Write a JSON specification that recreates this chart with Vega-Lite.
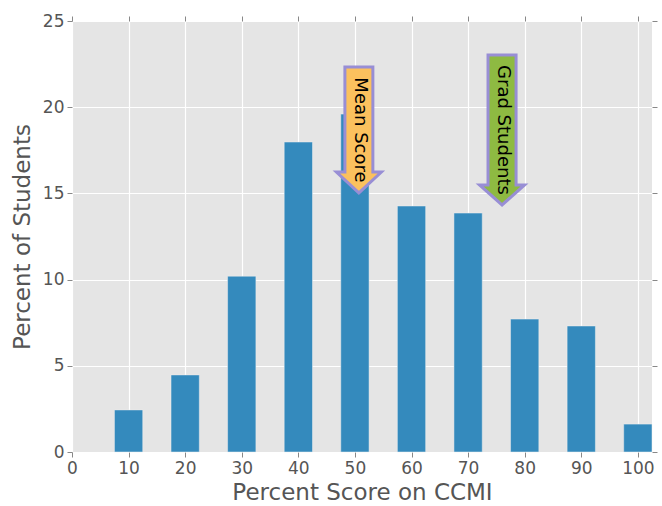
{
  "$schema": "https://vega.github.io/schema/vega-lite/v6.json",
  "width": 580,
  "height": 431,
  "autosize": {"type": "none"},
  "padding": {"left": 72, "top": 21, "right": 10, "bottom": 54},
  "background": "white",
  "view": {"fill": "#E5E5E5", "stroke": null},
  "config": {
    "font": "DejaVu Sans",
    "axis": {
      "labelFont": "DejaVu Sans",
      "titleFont": "DejaVu Sans",
      "labelFontSize": 17,
      "titleFontSize": 23,
      "titleFontWeight": "normal",
      "labelColor": "#555555",
      "titleColor": "#555555",
      "tickColor": "#888888",
      "tickSize": 5,
      "tickWidth": 1,
      "domain": false,
      "gridColor": "#FFFFFF",
      "gridWidth": 1.2,
      "gridOpacity": 1
    }
  },
  "datasets": {
    "bars": [
      {"score": 10, "pct": 2.44},
      {"score": 20, "pct": 4.47},
      {"score": 30, "pct": 10.2},
      {"score": 40, "pct": 17.98},
      {"score": 50, "pct": 19.6},
      {"score": 60, "pct": 14.27},
      {"score": 70, "pct": 13.86},
      {"score": 80, "pct": 7.71},
      {"score": 90, "pct": 7.31},
      {"score": 100, "pct": 1.62}
    ],
    "notes": [
      {"label": "Mean Score", "x": 50.7, "y": 18.68, "kind": "mean"},
      {"label": "Grad Students", "x": 76.0, "y": 18.68, "kind": "grad"}
    ]
  },
  "resolve": {"axis": {"x": "independent", "y": "independent"}},
  "layer": [
    {
      "data": {"name": "bars"},
      "mark": {"type": "bar", "size": 28.3, "color": "#348ABD", "stroke": "#EEEEEE", "strokeWidth": 0.5},
      "encoding": {
        "x": {
          "field": "score", "type": "quantitative",
          "scale": {"domain": [0, 102.5], "nice": false, "zero": false, "padding": 0},
          "axis": {"orient": "bottom", "values": [0, 10, 20, 30, 40, 50, 60, 70, 80, 90, 100], "title": "Percent Score on CCMI", "labelPadding": 3, "titlePadding": 5, "grid": true, "labelFlush": false}
        },
        "y": {
          "field": "pct", "type": "quantitative",
          "scale": {"domain": [0, 25], "nice": false, "padding": 0},
          "axis": {"orient": "left", "values": [0, 5, 10, 15, 20, 25], "title": "Percent of Students", "labelPadding": 3, "titlePadding": 8, "grid": true, "labelFlush": false}
        }
      }
    },
    {
      "data": {"name": "notes"},
      "transform": [{"filter": "datum.kind === 'mean'"}],
      "mark": {
        "type": "point",
        "shape": "M-0.222,-1L0.222,-1L0.222,0.667L0.357,0.667L0,1L-0.357,0.667L-0.222,0.667Z",
        "size": 15876,
        "filled": true,
        "fill": "#FBC15E",
        "fillOpacity": 1,
        "stroke": "#988ED5",
        "strokeWidth": 3,
        "opacity": 1
      },
      "encoding": {
        "x": {"field": "x", "type": "quantitative", "axis": {"orient": "top", "labels": false, "title": null, "grid": false, "values": [0, 10, 20, 30, 40, 50, 60, 70, 80, 90, 100]}},
        "y": {"field": "y", "type": "quantitative", "axis": {"orient": "right", "labels": false, "title": null, "grid": false, "values": [0, 5, 10, 15, 20, 25]}}
      }
    },
    {
      "data": {"name": "notes"},
      "transform": [{"filter": "datum.kind === 'grad'"}],
      "mark": {
        "type": "point",
        "shape": "M-0.187,-1L0.187,-1L0.187,0.733L0.3,0.733L0,1L-0.3,0.733L-0.187,0.733Z",
        "size": 22500,
        "filled": true,
        "fill": "#8EBA42",
        "fillOpacity": 1,
        "stroke": "#988ED5",
        "strokeWidth": 3,
        "opacity": 1
      },
      "encoding": {
        "x": {"field": "x", "type": "quantitative", "axis": null},
        "y": {"field": "y", "type": "quantitative", "axis": null}
      }
    },
    {
      "data": {"name": "notes"},
      "mark": {"type": "text", "angle": 90, "align": "center", "baseline": "middle", "fontSize": 18, "font": "DejaVu Sans", "color": "#000000", "dy": -1},
      "encoding": {
        "x": {"field": "x", "type": "quantitative", "axis": null},
        "y": {"field": "y", "type": "quantitative", "axis": null},
        "text": {"field": "label"}
      }
    }
  ]
}
